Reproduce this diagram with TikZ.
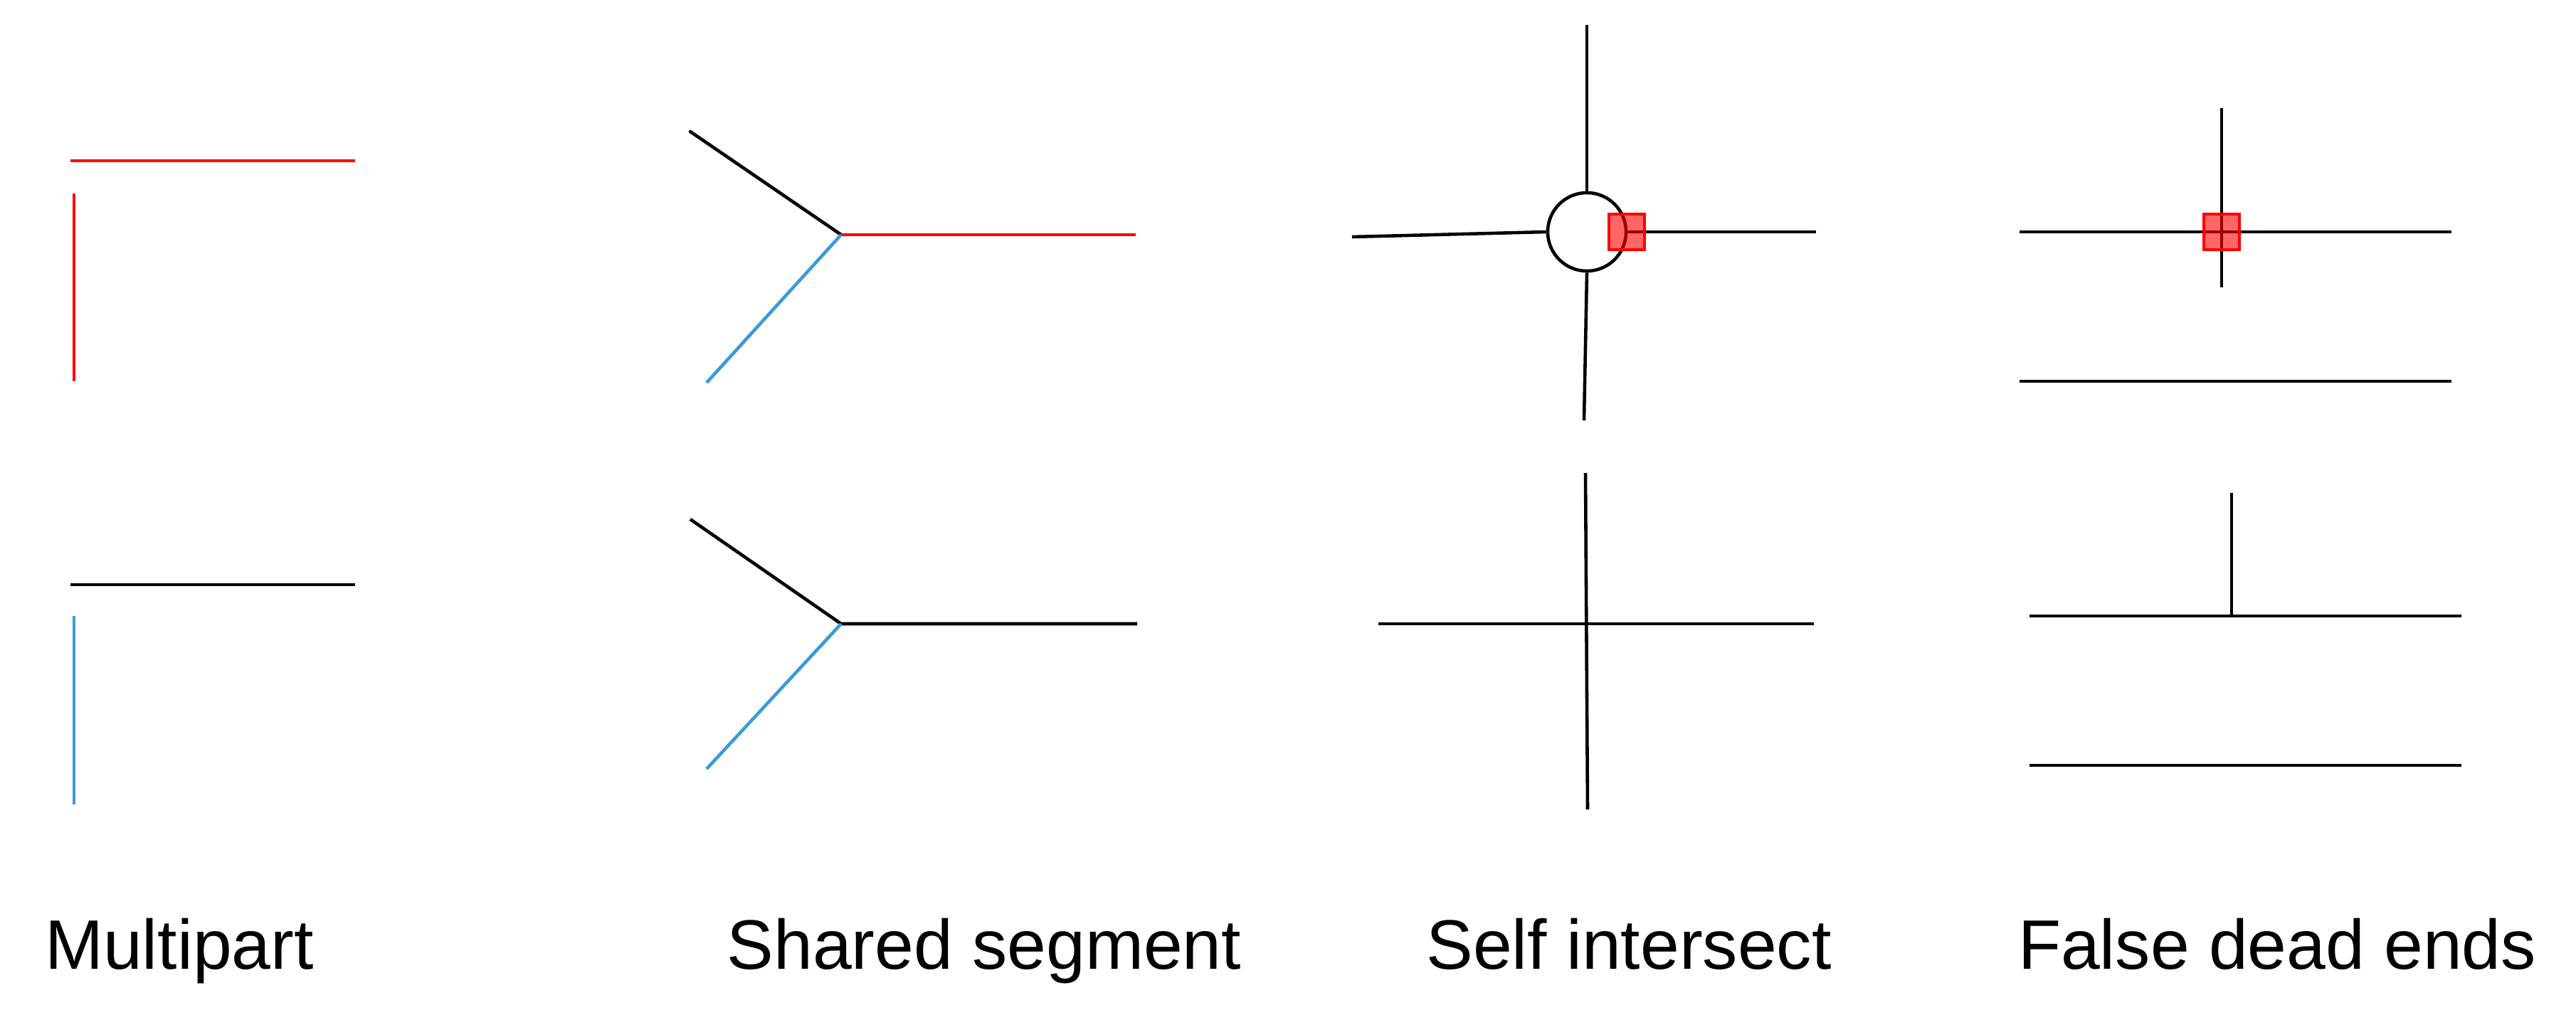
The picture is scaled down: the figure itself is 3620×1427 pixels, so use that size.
\documentclass[tikz,border=0pt]{standalone}
\usepackage{fontspec}
\setmainfont{Liberation Sans}
\begin{document}
\begin{tikzpicture}[x=0.01cm,y=-0.01cm,line width=1.3pt,
  ln/.style={black},
  rd/.style={red},
  bl/.style={color=lblue},
  errmark/.style={rectangle,draw=red,fill=red,fill opacity=0.6,line width=1.2pt,minimum size=0.5cm,inner sep=0pt},
  lab/.style={font=\fontsize{28}{32}\selectfont,anchor=base}]
\definecolor{lblue}{HTML}{3A9AD9}
\useasboundingbox (0,0) rectangle (3620,1427);
% Multipart
\coordinate (m1) at (99,226); \coordinate (m2) at (499,226);
\coordinate (m3) at (104,272); \coordinate (m4) at (104,536);
\draw[rd] (m1)--(m2); \draw[rd] (m3)--(m4);
\coordinate (m5) at (99,822); \coordinate (m6) at (499,822);
\coordinate (m7) at (104,866); \coordinate (m8) at (104,1131);
\draw[ln] (m5)--(m6); \draw[bl] (m7)--(m8);
% Shared segment
\coordinate (s0) at (970,185); \coordinate (sj) at (1182,330);
\coordinate (s1) at (1596,330); \coordinate (s2) at (993,538);
\draw[ln,line cap=round] (s0)--(sj); \draw[rd] (sj)--(s1); \draw[bl] (sj)--(s2);
\coordinate (t0) at (970,730); \coordinate (tj) at (1182,877);
\coordinate (t1) at (1598,877); \coordinate (t2) at (993,1081);
\draw[ln] (t0)--(tj)--(t1); \draw[bl] (tj)--(t2);
% Self intersect
\node[circle,draw,line width=1.3pt,minimum size=1.1cm,inner sep=0pt] (c) at (2230,326) {};
\coordinate (a1) at (2230,35); \coordinate (a2) at (2226,591);
\coordinate (a3) at (1900,333); \coordinate (a4) at (2552,326);
\draw (a1)--(c.north); \draw (c.south)--(a2); \draw (a3)--(c.west); \draw (c.east)--(a4);
\node[errmark] (q1) at (2286,326) {};
\coordinate (b1) at (2228,665); \coordinate (b2) at (2231,1138);
\coordinate (b3) at (1937,877); \coordinate (b4) at (2549,877);
\draw (b1)--(b2); \draw (b3)--(b4);
% False dead ends
\coordinate (f1) at (2838,326); \coordinate (f2) at (3445,326);
\coordinate (f3) at (3122,152); \coordinate (f4) at (3122,404);
\coordinate (f5) at (2838,536); \coordinate (f6) at (3445,536);
\draw (f1)--(f2); \draw (f3)--(f4); \draw (f5)--(f6);
\node[errmark] (q2) at (3122,326) {};
\coordinate (g1) at (2852,866); \coordinate (g2) at (3459,866);
\coordinate (g3) at (3136,693); \coordinate (g4) at (3136,866);
\coordinate (g5) at (2852,1076); \coordinate (g6) at (3459,1076);
\draw (g1)--(g2); \draw (g3)--(g4); \draw (g5)--(g6);
% Labels
\node[lab] (l1) at (252,1362) {Multipart};
\node[lab] (l2) at (1383,1362) {Shared segment};
\node[lab] (l3) at (2289,1362) {Self intersect};
\node[lab] (l4) at (3200,1362) {False dead ends};
\end{tikzpicture}
\end{document}
